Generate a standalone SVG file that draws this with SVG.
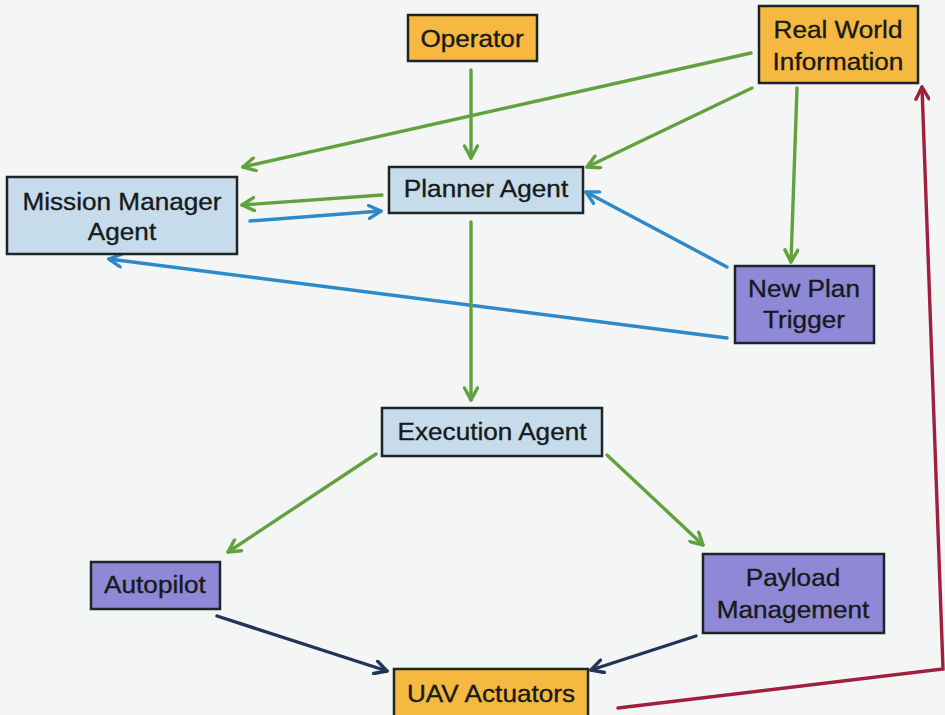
<svg xmlns="http://www.w3.org/2000/svg" width="945" height="715" viewBox="0 0 945 715">
  <style>
    .box { stroke: #1d2626; stroke-width: 2.5; }
    .ext { fill: #f5b840; }
    .agent { fill: #c6dcea; }
    .hw { fill: #8f88d6; }
    text { font-family: "Liberation Sans", Arial, sans-serif; font-size: 24px; fill: #161a1a; stroke: #161a1a; stroke-width: 0.35; text-anchor: middle; }
    .c { fill: none; stroke-width: 3.4; stroke-linecap: round; }
    .g { stroke: #62a23e; }
    .b { stroke: #2f88c8; }
    .n { stroke: #1f3658; }
    .r { stroke: #a11f3e; }
  </style>
  <defs>
    <marker id="ag" viewBox="0 0 16 16" refX="14" refY="8" markerWidth="16" markerHeight="16" markerUnits="userSpaceOnUse" orient="auto">
      <path d="M2,1.5 L14,8 L2,14.5" fill="none" stroke="#62a23e" stroke-width="3.4" stroke-linecap="round" stroke-linejoin="round"/>
    </marker>
    <marker id="ab" viewBox="0 0 16 16" refX="14" refY="8" markerWidth="16" markerHeight="16" markerUnits="userSpaceOnUse" orient="auto">
      <path d="M2,1.5 L14,8 L2,14.5" fill="none" stroke="#2f88c8" stroke-width="3.4" stroke-linecap="round" stroke-linejoin="round"/>
    </marker>
    <marker id="an" viewBox="0 0 16 16" refX="14" refY="8" markerWidth="16" markerHeight="16" markerUnits="userSpaceOnUse" orient="auto">
      <path d="M2,1.5 L14,8 L2,14.5" fill="none" stroke="#1f3658" stroke-width="3.4" stroke-linecap="round" stroke-linejoin="round"/>
    </marker>
    <marker id="ar" viewBox="0 0 16 16" refX="14" refY="8" markerWidth="16" markerHeight="16" markerUnits="userSpaceOnUse" orient="auto">
      <path d="M2,1.5 L14,8 L2,14.5" fill="none" stroke="#a11f3e" stroke-width="3.4" stroke-linecap="round" stroke-linejoin="round"/>
    </marker>
  </defs>

  <rect width="945" height="715" fill="#f4f5f5"/>

  <!-- connectors -->
  <g id="connectors">
    <line class="c g" x1="471" y1="70" x2="471" y2="158" marker-end="url(#ag)"/>
    <line class="c g" x1="751" y1="53" x2="243" y2="167" marker-end="url(#ag)"/>
    <line class="c g" x1="752" y1="88" x2="587" y2="167" marker-end="url(#ag)"/>
    <line class="c g" x1="797" y1="88" x2="791" y2="262" marker-end="url(#ag)"/>
    <line class="c g" x1="382" y1="195" x2="242" y2="205" marker-end="url(#ag)"/>
    <line class="c b" x1="250" y1="221" x2="381" y2="211" marker-end="url(#ab)"/>
    <line class="c b" x1="727" y1="267" x2="586" y2="192" marker-end="url(#ab)"/>
    <line class="c b" x1="727" y1="338" x2="109" y2="259" marker-end="url(#ab)"/>
    <line class="c g" x1="471" y1="222" x2="471" y2="400" marker-end="url(#ag)"/>
    <line class="c g" x1="376" y1="454" x2="228" y2="552" marker-end="url(#ag)"/>
    <line class="c g" x1="607" y1="455" x2="703" y2="545" marker-end="url(#ag)"/>
    <line class="c n" x1="217" y1="616" x2="387" y2="671" marker-end="url(#an)"/>
    <line class="c n" x1="696" y1="636" x2="591" y2="670" marker-end="url(#an)"/>
    <polyline class="c r" points="618,708 943,669 922,87" marker-end="url(#ar)"/>
  </g>

  <!-- nodes -->
  <g id="operator">
    <rect class="box ext" x="408" y="15" width="129" height="46"/>
    <text transform="translate(472,47) scale(1.09,1)">Operator</text>
  </g>
  <g id="real-world-information">
    <rect class="box ext" x="759" y="6" width="159" height="77"/>
    <text transform="translate(838,38) scale(1.09,1)">Real World</text>
    <text transform="translate(838,70) scale(1.09,1)">Information</text>
  </g>
  <g id="mission-manager-agent">
    <rect class="box agent" x="7" y="177" width="230" height="77"/>
    <text transform="translate(122,210) scale(1.09,1)">Mission Manager</text>
    <text transform="translate(122,240) scale(1.09,1)">Agent</text>
  </g>
  <g id="planner-agent">
    <rect class="box agent" x="389" y="167" width="194" height="46"/>
    <text transform="translate(486,197) scale(1.09,1)">Planner Agent</text>
  </g>
  <g id="new-plan-trigger">
    <rect class="box hw" x="735" y="266" width="139" height="77"/>
    <text transform="translate(804,297) scale(1.09,1)">New Plan</text>
    <text transform="translate(804,328) scale(1.09,1)">Trigger</text>
  </g>
  <g id="execution-agent">
    <rect class="box agent" x="382" y="408" width="220" height="48"/>
    <text transform="translate(492,440) scale(1.09,1)">Execution Agent</text>
  </g>
  <g id="autopilot">
    <rect class="box hw" x="91" y="562" width="129" height="47"/>
    <text transform="translate(155,593) scale(1.09,1)">Autopilot</text>
  </g>
  <g id="payload-management">
    <rect class="box hw" x="703" y="554" width="181" height="79"/>
    <text transform="translate(793,586) scale(1.09,1)">Payload</text>
    <text transform="translate(793,618) scale(1.09,1)">Management</text>
  </g>
  <g id="uav-actuators">
    <rect class="box ext" x="394" y="669" width="194" height="50"/>
    <text transform="translate(491,702) scale(1.09,1)">UAV Actuators</text>
  </g>
</svg>
